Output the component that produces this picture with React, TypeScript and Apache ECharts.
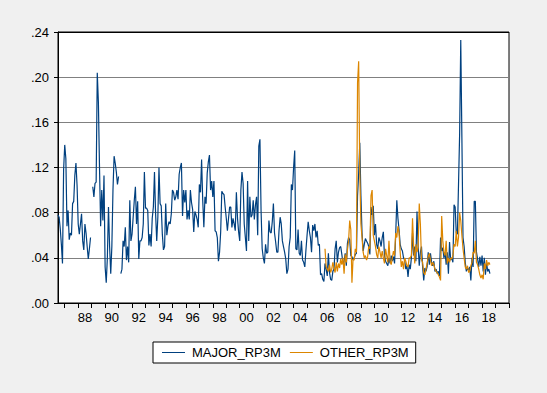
import React, { useEffect, useRef } from "react";
import * as echarts from "echarts";

// ---- series names ----
const seriesNames = ["MAJOR_RP3M", "OTHER_RP3M"];

// ---- y-axis ticks ----
const yMin = 0;
const yMax = 0.24;
const yStep = 0.04;

// ---- x-axis: first labelled year ----
const firstLabelYear = 1988;

// ---- MAJOR_RP3M, monthly, from 1986M07 ----
const major1986 = [0.078, 0.076, 0.066, 0.052, 0.035, 0.118];
const major1987 = [0.140, 0.128, 0.068, 0.082, 0.056, 0.062, 0.060, 0.088, 0.090, 0.113, 0.124, 0.104];
const major1988 = [0.070, 0.061, 0.070, 0.079, 0.055, 0.047, 0.070, 0.062, 0.050, 0.039, 0.048, 0.058];
const major1989 = [null, 0.103, 0.094, 0.106, 0.107, 0.204, 0.178, 0.120, 0.068, 0.100, 0.073, 0.113];
const major1990 = [0.032, 0.018, 0.040, 0.085, 0.050, 0.026, 0.050, 0.100, 0.130, 0.124, 0.116, 0.105];
const major1991 = [0.112, null, 0.026, 0.030, 0.055, 0.050, 0.067, 0.038, 0.050, 0.036, 0.091, 0.055];
const major1992 = [0.061, 0.076, 0.091, 0.103, 0.070, 0.090, 0.039, 0.055, 0.055, 0.058, 0.070, 0.116];
const major1993 = [0.084, 0.084, 0.082, 0.051, 0.061, 0.050, 0.075, 0.085, 0.116, 0.079, 0.055, 0.076];
const major1994 = [0.120, 0.088, 0.086, 0.061, 0.047, 0.050, 0.088, 0.060, 0.068, 0.072, 0.070, 0.079];
const major1995 = [0.100, 0.098, 0.091, 0.094, 0.100, 0.092, 0.114, 0.120, 0.124, 0.077, 0.100, 0.089];
const major1996 = [0.100, 0.074, 0.082, 0.074, 0.100, 0.089, 0.083, 0.063, 0.081, 0.078, 0.074, 0.067];
const major1997 = [0.105, 0.098, 0.127, 0.091, 0.067, 0.094, 0.088, 0.115, 0.125, 0.131, 0.100, 0.108];
const major1998 = [0.094, 0.108, 0.064, 0.063, 0.058, 0.037, 0.045, 0.063, 0.099, 0.097, 0.096, 0.085];
const major1999 = [0.075, 0.064, 0.075, 0.085, 0.085, 0.067, 0.075, 0.070, 0.064, 0.098, 0.075, 0.063];
const major2000 = [0.055, 0.100, 0.116, 0.106, 0.070, 0.058, 0.046, 0.108, 0.055, 0.094, 0.076, 0.078];
const major2001 = [0.091, 0.074, 0.087, 0.094, 0.060, 0.139, 0.145, 0.082, 0.048, 0.040, 0.035, 0.052];
const major2002 = [0.044, 0.045, 0.073, 0.063, 0.062, 0.072, 0.088, 0.062, 0.054, 0.045, 0.045, 0.064];
const major2003 = [0.076, 0.070, 0.055, 0.050, 0.045, 0.039, 0.026, 0.030, 0.050, 0.058, 0.105, 0.100];
const major2004 = [0.120, 0.135, 0.048, 0.047, 0.065, 0.044, 0.042, 0.055, 0.038, 0.036, 0.032, 0.047];
const major2005 = [0.060, 0.072, 0.064, 0.058, 0.045, 0.069, 0.064, 0.070, 0.058, 0.064, 0.051, 0.052];
const major2006 = [0.025, 0.026, 0.021, 0.019, 0.035, 0.030, 0.024, 0.044, 0.027, 0.021, 0.020, 0.028];
const major2007 = [0.030, 0.048, 0.055, 0.036, 0.045, 0.049, 0.050, 0.043, 0.035, 0.037, 0.044, 0.033];
const major2008 = [0.053, 0.058, 0.056, 0.042, 0.041, 0.038, 0.040, 0.043, 0.044, 0.095, 0.115, 0.142];
const major2009 = [0.095, 0.062, 0.046, 0.052, 0.057, 0.055, 0.053, 0.050, 0.043, 0.085, 0.078, 0.086];
const major2010 = [0.060, 0.070, 0.052, 0.048, 0.058, 0.055, 0.050, 0.058, 0.063, 0.042, 0.037, 0.035];
const major2011 = [0.033, 0.040, 0.035, 0.042, 0.037, 0.041, 0.035, 0.060, 0.091, 0.075, 0.065, 0.052];
const major2012 = [0.048, 0.046, 0.040, 0.038, 0.030, 0.033, 0.023, 0.034, 0.030, 0.040, 0.062, 0.042];
const major2013 = [0.050, 0.037, 0.081, 0.050, 0.033, 0.045, 0.050, 0.032, 0.020, 0.031, 0.028, 0.032];
const major2014 = [0.045, 0.034, 0.044, 0.036, 0.033, 0.037, 0.028, 0.030, 0.026, 0.028, 0.024, 0.058];
const major2015 = [0.046, 0.049, 0.040, 0.045, 0.034, 0.045, 0.026, 0.054, 0.038, 0.040, 0.036, 0.087];
const major2016 = [0.085, 0.062, 0.061, 0.105, 0.150, 0.233, 0.147, 0.058, 0.050, 0.036, 0.028, 0.031];
const major2017 = [0.029, 0.032, 0.020, 0.040, 0.032, 0.090, 0.090, 0.045, 0.039, 0.032, 0.041, 0.033];
const major2018 = [0.042, 0.028, 0.040, 0.025, 0.036, 0.028, 0.030, 0.026];

// ---- OTHER_RP3M, monthly, from 2006M05 ----
const other2006 = [0.048, 0.032, 0.030, 0.028, 0.034, 0.027, 0.030, 0.036];
const other2007 = [0.031, 0.027, 0.036, 0.028, 0.035, 0.031, 0.039, 0.034, 0.040, 0.026, 0.043, 0.036];
const other2008 = [0.047, 0.055, 0.073, 0.065, 0.018, 0.039, 0.038, 0.048, 0.045, 0.195, 0.214, 0.115];
const other2009 = [0.070, 0.058, 0.045, 0.040, 0.042, 0.038, 0.041, 0.050, 0.048, 0.095, 0.100, 0.060];
const other2010 = [0.055, 0.050, 0.043, 0.040, 0.050, 0.045, 0.040, 0.046, 0.040, 0.035, 0.048, 0.042];
const other2011 = [0.036, 0.055, 0.037, 0.034, 0.040, 0.046, 0.042, 0.062, 0.058, 0.068, 0.062, 0.045];
const other2012 = [0.032, 0.037, 0.030, 0.040, 0.037, 0.033, 0.032, 0.040, 0.040, 0.042, 0.075, 0.050];
const other2013 = [0.035, 0.052, 0.045, 0.050, 0.088, 0.070, 0.038, 0.036, 0.027, 0.025, 0.030, 0.035];
const other2014 = [0.041, 0.044, 0.038, 0.033, 0.036, 0.034, 0.030, 0.028, 0.027, 0.025, 0.023, 0.020];
const other2015 = [0.077, 0.055, 0.045, 0.042, 0.055, 0.035, 0.040, 0.036, 0.040, 0.039, 0.042, 0.052];
const other2016 = [0.050, 0.064, 0.050, 0.058, 0.080, 0.073, 0.060, 0.048, 0.040, 0.032, 0.030, 0.033];
const other2017 = [0.027, 0.028, 0.033, 0.036, 0.045, 0.044, 0.055, 0.036, 0.034, 0.030, 0.025, 0.022];
const other2018 = [0.025, 0.021, 0.035, 0.030, 0.038, 0.033, 0.036, 0.034];

const otherStartMonths = 238; // months between 1986M07 and 2006M05

// ---- axis categories: months 1986M07 .. 2020M01 ----
function buildMonths(): string[] {
  const out: string[] = [];
  let y = 1986;
  let m = 7;
  while (y * 12 + m <= 2020 * 12 + 1) {
    out.push(`${y}-${String(m).padStart(2, "0")}`);
    m++;
    if (m > 12) {
      m = 1;
      y++;
    }
  }
  return out;
}

const majorData = [
  ...major1986, ...major1987, ...major1988, ...major1989, ...major1990,
  ...major1991, ...major1992, ...major1993, ...major1994, ...major1995,
  ...major1996, ...major1997, ...major1998, ...major1999, ...major2000,
  ...major2001, ...major2002, ...major2003, ...major2004, ...major2005,
  ...major2006, ...major2007, ...major2008, ...major2009, ...major2010,
  ...major2011, ...major2012, ...major2013, ...major2014, ...major2015,
  ...major2016, ...major2017, ...major2018,
];

const otherData = [
  ...new Array(otherStartMonths).fill(null),
  ...other2006, ...other2007, ...other2008, ...other2009, ...other2010,
  ...other2011, ...other2012, ...other2013, ...other2014, ...other2015,
  ...other2016, ...other2017, ...other2018,
];

const FONT = 'Arial, "Liberation Sans", sans-serif';
const BLUE = "#00407f";
const ORANGE = "#dc8600";

export default function App() {
  const ref = useRef<HTMLDivElement>(null);

  useEffect(() => {
    if (!ref.current) return;
    const chart = echarts.init(ref.current, undefined, { renderer: "svg" });
    const months = buildMonths();
    chart.setOption({
      animation: false,
      backgroundColor: "#f0f0f0",
      textStyle: { fontFamily: FONT },
      grid: {
        left: 58,
        top: 32,
        right: 38,
        bottom: 90,
        show: true,
        backgroundColor: "#ffffff",
        borderColor: "#000000",
        borderWidth: 1,
        containLabel: false,
        outerBoundsMode: "none",
      },
      legend: {
        data: [
          { name: seriesNames[0], icon: "rect" },
          { name: seriesNames[1], icon: "rect" },
        ],
        left: 153,
        top: 342,
        orient: "horizontal",
        padding: [3, 7, 3, 9],
        itemGap: 9,
        itemWidth: 23,
        itemHeight: 1,
        backgroundColor: "#ffffff",
        borderColor: "#000000",
        borderWidth: 1,
        borderRadius: 0,
        selectedMode: false,
        textStyle: {
          fontSize: 13,
          color: "#000000",
          fontFamily: FONT,
          lineHeight: 15,
          padding: [0, 0, 0, 2],
        },
      },
      xAxis: {
        type: "category",
        data: months,
        boundaryGap: false,
        axisLine: { show: true, lineStyle: { color: "#000000", width: 1 } },
        axisTick: {
          show: true,
          interval: (_i: number, v: string) => v.endsWith("-01"),
          length: 5,
          inside: false,
          lineStyle: { color: "#000000", width: 1 },
        },
        axisLabel: {
          interval: (_i: number, v: string) => {
            const yr = Number(v.slice(0, 4));
            return v.endsWith("-07") && yr >= firstLabelYear && yr % 2 === 0;
          },
          formatter: (v: string) => v.slice(2, 4),
          color: "#000000",
          fontSize: 13,
          fontFamily: FONT,
          margin: 8,
          hideOverlap: false,
        },
        splitLine: { show: false },
      },
      yAxis: {
        type: "value",
        min: yMin,
        max: yMax,
        interval: yStep,
        axisLine: { show: true, lineStyle: { color: "#000000", width: 1 } },
        axisTick: { show: true, length: 4, lineStyle: { color: "#000000" } },
        axisLabel: {
          formatter: (v: number) => v.toFixed(2).replace(/^0/, ""),
          color: "#000000",
          fontSize: 13,
          fontFamily: FONT,
          margin: 9,
        },
        splitLine: {
          show: true,
          lineStyle: {
            color: ["#000000", "#808080", "#808080", "#808080", "#808080", "#808080", "#000000"],
            width: 1,
          },
        },
      },
      series: [
        {
          name: seriesNames[0],
          type: "line",
          data: majorData,
          symbol: "none",
          showSymbol: false,
          connectNulls: false,
          lineStyle: { color: BLUE, width: 1.2 },
          itemStyle: { color: BLUE },
          emphasis: { disabled: true },
        },
        {
          name: seriesNames[1],
          type: "line",
          data: otherData,
          symbol: "none",
          showSymbol: false,
          connectNulls: false,
          lineStyle: { color: ORANGE, width: 1.2 },
          itemStyle: { color: ORANGE },
          emphasis: { disabled: true },
        },
      ],
    });
    return () => chart.dispose();
  }, []);

  return (
    <div
      ref={ref}
      style={{ position: "fixed", left: 0, top: 0, width: 547, height: 393 }}
    />
  );
}
